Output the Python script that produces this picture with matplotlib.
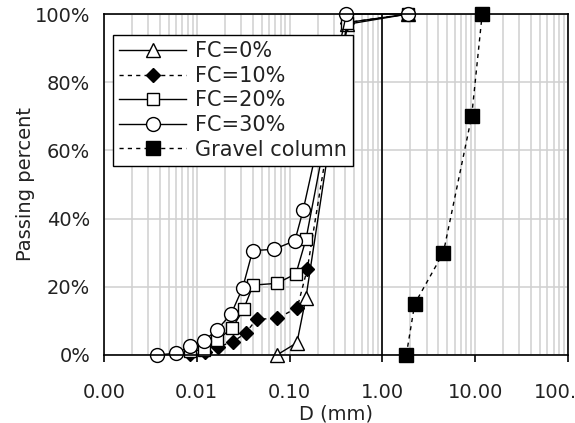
import matplotlib
matplotlib.use("Agg")
import matplotlib.pyplot as plt
from matplotlib.ticker import FixedLocator, FuncFormatter, LogLocator, NullFormatter

# grain size (mm) and passing percent
d_fc0 = [0.073, 0.12, 0.15, 0.42, 1.9]
p_fc0 = [0, 3.6, 16.8, 97, 100]

d_fc10 = [0.0085, 0.0122, 0.017, 0.0247, 0.0338, 0.044, 0.0735, 0.121, 0.155, 0.42, 1.9]
p_fc10 = [0.2, 1.0, 2.4, 3.9, 6.5, 10.5, 10.7, 13.9, 25.2, 97.5, 100]

d_fc20 = [0.0085, 0.012, 0.0167, 0.0242, 0.0319, 0.0405, 0.0727, 0.117, 0.150, 0.42, 1.9]
p_fc20 = [1.2, 1.5, 4.4, 8.0, 13.4, 20.5, 21.0, 23.8, 33.9, 97.5, 100]

d_fc30 = [0.0037, 0.006, 0.0085, 0.012, 0.0164, 0.0234, 0.0312, 0.040, 0.068, 0.114, 0.14, 0.41, 1.9]
p_fc30 = [0, 0.5, 2.6, 4.2, 7.3, 12.0, 19.7, 30.6, 31.0, 33.5, 42.5, 100, 100]

d_gravel = [1.81, 2.23, 4.54, 9.16, 11.9]
p_gravel = [0, 15, 30, 70, 100]

x_ticks = [0.001, 0.01, 0.1, 1, 10, 100]
y_ticks = [0, 20, 40, 60, 80, 100]

plt.rcParams['font.family'] = ['DejaVu Sans']
plt.rcParams['font.size'] = 14

fig = plt.figure(figsize=(5.75, 4.23), dpi=100)
ax = fig.add_axes([0.1809, 0.1608, 0.8069, 0.8061])

ax.set_xscale('log')
ax.set_xlim(0.001, 100)
ax.set_ylim(0, 100)

# grid
ax.xaxis.set_major_locator(FixedLocator(x_ticks))
ax.xaxis.set_minor_locator(LogLocator(base=10, subs=range(2, 10)))
ax.xaxis.set_minor_formatter(NullFormatter())
ax.xaxis.set_major_formatter(FuncFormatter(lambda v, p: f"{v:.2f}"))
ax.set_yticks(y_ticks)
ax.yaxis.set_major_formatter(FuncFormatter(lambda v, p: f"{v:.0f}%"))
ax.grid(True, which='both', axis='x', color='#d0d0d0', lw=1.1)
ax.grid(True, which='major', axis='y', color='#d0d0d0', lw=1.1)
ax.set_axisbelow(True)
ax.axvline(1, color='black', lw=1.2, zorder=1.5)

ax.tick_params(axis='x', which='major', length=5, width=1.2, direction='out', pad=15, colors='black')
ax.tick_params(axis='x', which='minor', length=0)
ax.tick_params(axis='y', length=0, pad=10)
for lab in ax.get_xticklabels() + ax.get_yticklabels():
    lab.set_color('#222222')
for s in ax.spines.values():
    s.set_color('black')
    s.set_linewidth(1.2)

common = dict(color='black', lw=1.0, markeredgecolor='black', markeredgewidth=1.0, clip_on=False)
ax.plot(d_fc0, p_fc0, '-', marker='^', ms=10, mfc='white', label='FC=0%', **common)
ax.plot(d_fc10, p_fc10, '--', marker='D', ms=7.5, mfc='black', label='FC=10%', dashes=(3, 3), **common)
ax.plot(d_fc20, p_fc20, '-', marker='s', ms=9, mfc='white', label='FC=20%', **common)
ax.plot(d_fc30, p_fc30, '-', marker='o', ms=10, mfc='white', label='FC=30%', **common)
ax.plot(d_gravel, p_gravel, '--', marker='s', ms=10, mfc='black', label='Gravel column', dashes=(3, 3), **common)

ax.set_xlabel('D (mm)', labelpad=2, color='#222222')
ax.set_ylabel('Passing percent', labelpad=0, color='#222222')

leg = ax.legend(loc='upper left', bbox_to_anchor=(113 / 575, 1 - 35 / 423),
                bbox_transform=fig.transFigure, handlelength=3.2, fancybox=False,
                framealpha=1, edgecolor='black', borderpad=0.3, labelspacing=0.22,
                handletextpad=0.45, borderaxespad=0, fontsize=15)
leg.get_frame().set_linewidth(1.0)
for t in leg.get_texts():
    t.set_color('#222222')

fig.savefig('out.png', dpi=100)
